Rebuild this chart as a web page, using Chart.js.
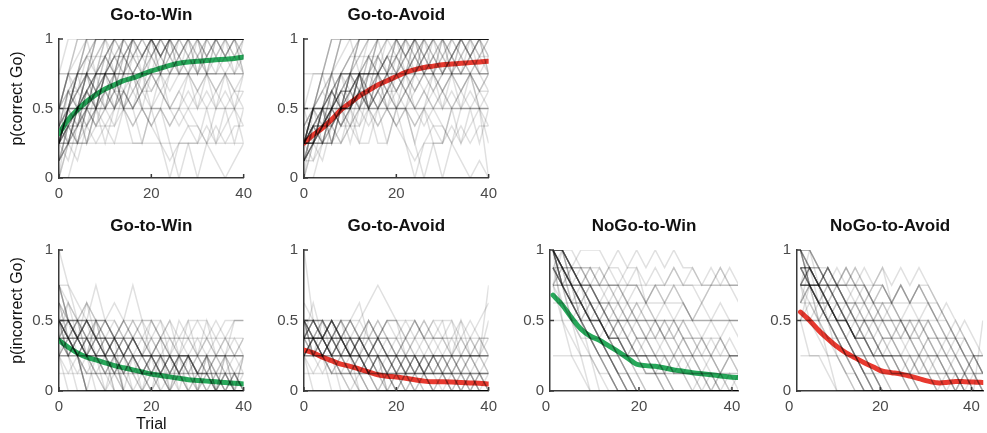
<!DOCTYPE html>
<html>
<head>
<meta charset="utf-8">
<script src="https://cdn.jsdelivr.net/npm/chart.js@4.4.1/dist/chart.umd.min.js"></script>
<style>
  body { margin: 0; background: #fff; }
  #wrap { position: relative; width: 987px; height: 433px; overflow: hidden; }
  #wrap canvas { position: absolute; }
</style>
</head>
<body>
<div id="wrap"></div>
<script>
// trial positions of the sampled points
const trialsGo = [0, 2, 4, 6, 8, 10, 12, 14, 16, 18, 20, 22, 24, 26, 28, 30, 32, 34, 36, 38, 40];
const trialsNoGoWin = [1.5, 3.5, 5.5, 7.5, 9.5, 11.5, 13.5, 15.5, 17.5, 19.5, 21.5, 23.5, 25.5, 27.5, 29.5, 31.5, 33.5, 35.5, 37.5, 39.5, 41.5];
const trialsNoGoAvoid = [2.5, 4.5, 6.5, 8.5, 10.5, 12.5, 14.5, 16.5, 18.5, 20.5, 22.5, 24.5, 26.5, 28.5, 30.5, 32.5, 34.5, 36.5, 38.5, 40.5, 42.5];

const xTicks = [0, 20, 40];
const yTicks = [0, 0.5, 1];

// group means
const meanCorrectGoWin = [0.32, 0.42, 0.49, 0.55, 0.60, 0.64, 0.67, 0.70, 0.72, 0.745, 0.77, 0.79, 0.81, 0.825, 0.835, 0.84, 0.845, 0.85, 0.855, 0.86, 0.87];
const meanCorrectGoAvoid = [0.25, 0.31, 0.36, 0.42, 0.49, 0.54, 0.59, 0.63, 0.67, 0.70, 0.73, 0.76, 0.78, 0.795, 0.805, 0.815, 0.82, 0.825, 0.83, 0.835, 0.84];
const meanIncorrectGoWin = [0.36, 0.31, 0.27, 0.24, 0.22, 0.20, 0.18, 0.165, 0.15, 0.135, 0.12, 0.11, 0.10, 0.09, 0.08, 0.075, 0.07, 0.065, 0.06, 0.055, 0.05];
const meanIncorrectGoAvoid = [0.29, 0.27, 0.24, 0.215, 0.19, 0.175, 0.155, 0.135, 0.115, 0.105, 0.10, 0.09, 0.08, 0.07, 0.065, 0.065, 0.063, 0.06, 0.057, 0.055, 0.05];
const meanIncorrectNoGoWin = [0.68, 0.61, 0.52, 0.44, 0.39, 0.36, 0.32, 0.28, 0.235, 0.19, 0.18, 0.175, 0.163, 0.15, 0.14, 0.13, 0.122, 0.115, 0.107, 0.10, 0.095];
const meanIncorrectNoGoAvoid = [0.56, 0.50, 0.43, 0.37, 0.315, 0.27, 0.235, 0.20, 0.17, 0.14, 0.13, 0.12, 0.105, 0.088, 0.07, 0.058, 0.06, 0.067, 0.066, 0.064, 0.06];

// single subjects: one digit per sampled trial, value in eighths
const subjCorrectGoWin = [
  '46888 88888 88888 88888 8', '24688 88888 88888 88888 8', '02468 88888 88888 88888 8',
  '22446 68888 88888 88888 8', '44666 66888 88888 88888 8', '66666 66666 66666 66666 6',
  '46666 66666 66666 66666 6', '44444 44444 44444 44444 4', '24446 66688 88888 88888 8',
  '02244 66688 86888 88888 8', '46686 88888 86888 88888 8', '24464 66888 88888 68888 8',
  '22222 22222 22222 22222 2', '24644 66446 68866 86686 6', '42424 46464 66446 46464 6',
  '22424 24442 42022 02444 2', '00246 68888 88888 88888 8', '68888 88888 88888 88888 8',
  '44688 88888 88888 88888 8', '24668 86888 88888 86888 8', '46464 64686 88868 88888 8',
  '22446 44664 46688 68888 6', '04224 46422 44202 24242 4', '66888 88888 88888 88888 8',
  '44668 88888 88888 88888 6', '24444 66666 44666 66666 8',
  '34567 88888 88888 88888 8', '23456 78888 87888 88888 8', '24567 78787 88788 87888 8',
  '35677 88888 88878 88888 8', '12345 67788 88888 88888 8', '23456 67778 78787 87878 7',
  '45678 88888 88888 88888 8', '34566 76767 78787 88788 8', '23345 56667 67676 76767 6',
  '12334 45545 56566 56565 5', '34454 54545 45454 54545 4', '23234 33434 34343 32323 3',
  '13456 78888 88888 88887 8', '24678 88888 87888 88888 8', '33456 67888 88888 88888 8',
  '21345 65676 78888 88888 8', '12223 34545 65434 32101 2', '46788 88888 88888 88888 8',
  '35465 67687 87878 88888 8', '24354 65767 87888 78888 8', '13243 54656 76878 78787 8',
  '32435 46576 87678 87878 8', '45565 76787 87888 88888 8', '23434 54565 65456 56565 6',
  '34545 45454 34345 45454 5', '12132 32434 32123 23234 3', '24354 56465 76767 67676 7',
  '35465 76878 78888 88888 8', '13354 65767 87888 88888 8', '23243 43545 65676 76878 7',
  '46576 87878 88888 88888 8', '24465 67677 88888 88888 8', '32343 45456 56767 67878 8',
  '25456 78788 88888 88888 8'
];
const subjCorrectGoAvoid = [
  '24688 88888 88888 88888 8', '22446 68888 88888 88888 8', '02246 68888 88888 88888 8',
  '22244 46688 88888 88888 8', '44446 66668 88888 88888 8', '66666 66666 66666 66666 6',
  '44444 44444 44444 44444 4', '24444 44444 44444 44444 4', '22446 66666 66666 66666 6',
  '02244 46666 88886 88888 8', '24464 68888 86888 88888 8', '22424 46466 68688 88888 8',
  '22222 42244 44242 24444 2', '24644 66446 68866 86686 6', '42424 46464 66446 46464 4',
  '22424 24442 42022 02444 0', '00224 46688 88888 88888 8', '46688 88888 88888 88888 8',
  '24468 88888 88888 88888 8', '24668 86888 88888 86888 8', '44464 64686 88868 88888 8',
  '22446 44664 46688 68888 6', '04224 46422 44202 24242 4', '24688 88888 88888 88888 8',
  '22468 88888 88888 88888 6', '24444 66666 44666 66664 4',
  '23456 78888 88888 88888 8', '12345 66788 88888 88888 8', '23345 56678 88888 88888 8',
  '24566 77888 88788 88888 8', '12334 45567 78888 88888 8', '23456 67778 78787 87878 7',
  '34567 88888 88888 88888 8', '22345 56767 67878 88788 8', '23345 56667 67676 76767 6',
  '12334 45545 56566 56565 5', '34454 54545 45454 54545 4', '23234 33434 34343 32323 3',
  '12345 67888 88888 88887 8', '23456 78888 87888 88888 8', '13345 56788 88888 88888 8',
  '21345 65676 78888 88888 8', '12223 34545 65434 32101 0', '22334 45665 45676 54565 6',
  '24354 65767 87888 78888 8', '13243 54656 76878 78787 8', '22435 46576 87678 87878 8',
  '23454 56576 76787 87888 8', '23434 54565 65456 56565 6', '34545 45454 34345 45454 5',
  '12132 32434 32123 23234 3', '24354 56465 76767 67676 7', '13354 65767 87888 88888 8',
  '23243 43545 65676 76878 7', '12343 45456 56767 67878 8', '24456 56567 67878 88888 8',
  '32343 45456 56767 67878 8', '13234 35456 54565 67676 5', '23343 45454 56565 67676 6',
  '11232 34345 45654 56767 7'
];
const subjIncorrectGoWin = [
  '42200 00000 00000 00000 0', '64200 00000 00000 00000 0', '43220 00000 00000 00000 0',
  '22222 22222 22222 22222 2', '44322 20000 00000 00000 0', '43432 21200 00000 00000 0',
  '24342 22000 00000 00000 0', '44424 43432 22202 02000 0', '64446 45464 44243 43434 4',
  '22000 00000 00000 00000 0', '43202 02000 00000 00000 0', '86422 20000 00000 00000 0',
  '44444 32222 22222 22222 2', '33443 43232 43222 02022 2', '44344 43434 23422 24224 4',
  '42322 12000 20020 00000 0', '33200 00000 00000 00000 0', '20000 00000 00000 00000 0',
  '43224 23020 02000 00000 0', '34443 43444 43324 44344 4', '43232 22322 23022 12220 2',
  '65454 44343 43434 22020 2', '35353 33232 22122 11010 0',
  '53200 00000 00000 00000 0', '64321 00000 00000 00000 0', '44332 21100 00000 00000 0',
  '33322 11111 00000 00000 0', '54433 22211 11000 00000 0', '32211 11000 00000 00000 0',
  '44343 32323 21212 11101 0', '23332 22121 21111 01010 0', '43323 23222 12121 11111 1',
  '66543 32221 11000 00000 0', '34343 43332 32222 21222 2', '45454 43434 34333 23232 3',
  '22211 10000 00000 00000 0', '33333 33322 22211 11000 0', '44444 33333 22222 11111 0',
  '53222 22222 22222 22222 2', '11111 11111 11111 11111 1', '43333 33333 33333 33333 3',
  '32323 21212 12121 01010 0', '43432 32321 21210 10101 0', '23232 32121 21212 12101 1',
  '34343 23232 12121 21210 1', '43232 12121 01010 10000 0', '32321 21210 10100 00000 0',
  '23234 32321 23212 12121 2', '54343 23232 32323 23232 3', '42323 21210 10000 00000 0',
  '33232 32121 21212 10101 0', '21212 12101 01010 00000 0', '44343 34343 23232 32323 2',
  '32121 01000 00000 00000 0', '43434 23232 12121 21212 1', '64343 23232 21212 11010 0',
  '22323 23232 21212 12121 0'
];
const subjIncorrectGoAvoid = [
  '43200 00000 00000 00000 0', '42220 00000 00000 00000 0', '22222 22222 22222 22222 2',
  '33333 22222 22222 22222 2', '43322 21100 00000 00000 0', '34342 22120 00000 00000 0',
  '44443 43434 42343 34232 6', '34323 22222 12212 22222 2', '84422 20000 00000 00000 0',
  '33221 10000 00000 00000 0', '42434 45343 23434 32322 2', '23232 32222 11111 11111 1',
  '44323 22120 01000 00000 0', '33434 32434 43432 22222 4', '22211 00000 00000 00000 0',
  '42212 12101 10100 00000 0', '33323 23232 22222 21222 2', '34343 43434 43434 42423 3',
  '20000 00000 00000 00000 0', '43322 11000 00000 00000 0', '23233 23323 22122 22122 1',
  '44343 44565 44433 44343 2',
  '33221 11000 00000 00000 0', '44332 22111 00000 00000 0', '34433 32222 11111 10000 0',
  '23322 21111 11110 00000 0', '43333 33222 22211 11111 1', '54433 22211 00000 00000 0',
  '33343 33232 22121 21111 0', '22232 22121 11111 11010 0', '44343 43434 34343 33434 5',
  '23333 33333 33333 33333 3', '33434 43333 22222 22222 2', '11111 11111 11111 11111 1',
  '43322 21111 11111 11111 1', '35343 33222 21111 11000 0', '22211 10000 00000 00000 0',
  '44444 33333 32222 22221 1',
  '32323 21212 12121 01010 0', '23232 32321 21210 10101 0', '23232 32121 21212 12101 1',
  '34343 23232 12121 21210 1', '33232 12121 01010 10000 0', '32321 21210 10100 00000 0',
  '23234 32321 23212 12121 2', '43343 23232 32323 23232 3', '42323 21210 10000 00000 0',
  '33232 32121 21212 10101 0', '21212 12101 01010 00000 0', '34343 34343 23232 32323 2',
  '32121 01000 00000 00000 0', '23434 23232 12121 21212 1', '43343 23232 21212 11010 0',
  '22323 23232 21212 12121 0'
];
const subjIncorrectNoGoWin = [
  '86420 00000 00000 00000 0', '87642 00000 00000 00000 0', '88764 32100 00000 00000 0',
  '86666 66666 66666 66666 6', '44444 44444 44444 44444 4', '22222 22222 22222 22222 2',
  '87654 32100 00000 00000 0', '86543 21000 00000 00000 0', '76776 76677 67676 76676 6',
  '87667 67766 56676 65676 6', '86765 45454 34343 23232 2', '68654 54323 21000 00000 0',
  '87645 43432 22121 21010 1', '66543 21000 00000 00000 0', '88777 66567 56565 45454 4',
  '64322 10000 00000 00000 0', '87543 21000 00000 00000 0', '76555 43444 33434 33232 2',
  '88765 43210 00000 00000 0', '86432 11000 00000 00000 0', '67656 54545 56565 45666 5',
  '88654 32222 11100 00000 0', '75433 22211 11111 11111 1', '84210 00000 00000 00000 0',
  '88765 54321 00000 00000 0', '87765 43322 11000 00000 0', '76654 43322 21100 00000 0',
  '88766 55443 32211 00000 0', '66554 43322 22211 11000 0', '87543 22110 00000 00000 0',
  '88877 76655 44332 21100 0', '66666 66666 55555 44444 4', '76666 55554 44443 33332 2',
  '87654 43332 22222 22222 2', '88788 87878 78787 76767 6', '86544 44444 44444 44444 4',
  '55544 43332 22111 10000 0', '77666 55544 43332 22111 1', '88654 32100 00000 00000 0',
  '87765 54443 33222 11100 0',
  '87654 32100 00000 00000 0', '87765 43210 00000 00000 0', '76543 21000 00000 00000 0',
  '88765 43221 00000 00000 0', '86554 43322 11000 00000 0', '77654 32110 00000 00000 0',
  '88766 54432 21100 00000 0', '76545 43432 32121 01010 0', '67656 54343 32323 21212 1',
  '87676 56545 43434 32323 2', '65454 34323 21212 10101 0', '88776 65654 54343 32212 1',
  '87654 43210 00000 00000 0', '76565 45434 34323 23212 2', '86543 32100 00000 00000 0',
  '78767 67656 54545 43434 3'
];
const subjIncorrectNoGoAvoid = [
  '86420 00000 00000 00000 0', '76542 10000 00000 00000 0', '87654 32100 00000 00000 0',
  '66666 66655 54321 00000 0', '44444 44444 44444 32100 0', '22222 22222 22222 22100 0',
  '87654 32100 00000 00000 0', '66543 21000 00000 00000 0', '76676 76566 56565 43210 0',
  '86667 67656 56566 54321 0', '66565 45454 34343 21010 0', '68654 54323 21000 00000 0',
  '57645 43432 22121 21010 4', '44543 21000 00000 00000 0', '67676 66567 56565 54343 2',
  '44322 10000 00000 00000 0', '86543 21000 00000 00000 0', '56555 43444 33434 33232 2',
  '88765 43210 00000 00000 0', '46432 11000 00000 00000 0', '45456 54545 56565 45432 1',
  '66554 32222 11100 00000 0', '44433 22211 11111 11111 1', '42210 00000 00000 00000 0',
  '88765 54321 00000 00000 0', '77765 43322 11000 00000 0', '66654 43322 21100 00000 0',
  '88766 55443 32211 00000 0', '66554 43322 22211 11000 0', '87543 22110 00000 00000 0',
  '77776 76655 44332 21100 0', '66666 66666 55555 44321 0', '56666 55554 44443 33332 2',
  '76654 43332 22222 22221 1', '67676 76767 67676 54322 1', '64444 44444 44444 43322 2',
  '55544 43332 22111 10000 0', '67666 55544 43332 22111 1', '86654 32100 00000 00000 0',
  '77665 54443 33222 11100 0',
  '87654 32100 00000 00000 0', '77654 43210 00000 00000 0', '76543 21000 00000 00000 0',
  '88765 43221 00000 00000 0', '66554 43322 11000 00000 0', '77654 32110 00000 00000 0',
  '87766 54432 21100 00000 0', '66545 43432 32121 01010 0', '67656 54343 32323 21212 1',
  '76676 56545 43434 32321 0', '65454 34323 21212 10101 0', '77676 65654 54343 32212 1',
  '86654 43210 00000 00000 0', '56565 45434 34323 23212 2', '76543 32100 00000 00000 0',
  '67676 67656 54545 43432 1'
];

const GREEN = '#27a85a';
const RED = '#e8392f';
const TRACE = 'rgba(0, 0, 0, 0.12)';
const AXIS = '#3a3a3a';
const FONT = '"Liberation Sans", Arial, Helvetica, sans-serif';

const panels = [
  { title: 'Go-to-Win', x: trialsGo, mean: meanCorrectGoWin, subjects: subjCorrectGoWin, color: GREEN,
    box: { left: 59, top: 39, width: 186, height: 139 }, xMin: 0, xMax: 40, yLabel: 'p(correct Go)' },
  { title: 'Go-to-Avoid', x: trialsGo, mean: meanCorrectGoAvoid, subjects: subjCorrectGoAvoid, color: RED,
    box: { left: 304, top: 39, width: 186, height: 139 }, xMin: 0, xMax: 40 },
  { title: 'Go-to-Win', x: trialsGo, mean: meanIncorrectGoWin, subjects: subjIncorrectGoWin, color: GREEN,
    box: { left: 59, top: 250, width: 186, height: 141 }, xMin: 0, xMax: 40, yLabel: 'p(incorrect Go)', xLabel: 'Trial' },
  { title: 'Go-to-Avoid', x: trialsGo, mean: meanIncorrectGoAvoid, subjects: subjIncorrectGoAvoid, color: RED,
    box: { left: 304, top: 250, width: 186, height: 141 }, xMin: 0, xMax: 40 },
  { title: 'NoGo-to-Win', x: trialsNoGoWin, mean: meanIncorrectNoGoWin, subjects: subjIncorrectNoGoWin, color: GREEN,
    box: { left: 550, top: 250, width: 188, height: 141 }, xMin: 0.86, xMax: 41.3 },
  { title: 'NoGo-to-Avoid', x: trialsNoGoAvoid, mean: meanIncorrectNoGoAvoid, subjects: subjIncorrectNoGoAvoid, color: RED,
    box: { left: 797, top: 250, width: 188, height: 141 }, xMin: 1.74, xMax: 42.6, padRight: 2 }
];

function decode(s) {
  return s.replace(/\s/g, '').split('').map(c => Number(c) / 8);
}

// MATLAB-style tick marks pointing into the axes
const inwardTicks = {
  id: 'inwardTicks',
  afterDraw(chart) {
    const { ctx, chartArea, scales } = chart;
    ctx.save();
    ctx.strokeStyle = AXIS;
    ctx.lineWidth = 1.5;
    scales.x.ticks.forEach(t => {
      const px = scales.x.getPixelForValue(t.value);
      if (px < chartArea.left - 1 || px > chartArea.right + 1) return;
      ctx.beginPath();
      ctx.moveTo(px, chartArea.bottom);
      ctx.lineTo(px, chartArea.bottom - 4);
      ctx.stroke();
    });
    scales.y.ticks.forEach(t => {
      const py = scales.y.getPixelForValue(t.value);
      ctx.beginPath();
      ctx.moveTo(chartArea.left, py);
      ctx.lineTo(chartArea.left + 4, py);
      ctx.stroke();
    });
    ctx.restore();
  }
};

// rotated y-axis label, sits a little above the axis centre
const sideLabel = {
  id: 'sideLabel',
  afterDraw(chart, args, opts) {
    if (!opts.text) return;
    const { ctx, chartArea } = chart;
    ctx.save();
    ctx.translate(chartArea.left - 41, (chartArea.top + chartArea.bottom) / 2 - 10);
    ctx.rotate(-Math.PI / 2);
    ctx.font = '16px ' + FONT;
    ctx.fillStyle = '#111';
    ctx.textAlign = 'center';
    ctx.textBaseline = 'middle';
    ctx.fillText(opts.text, 0, 0);
    ctx.restore();
  }
};

const wrap = document.getElementById('wrap');

panels.forEach(p => {
  const yw = p.yLabel ? 59 : 45;
  const xh = p.xLabel ? 45 : 30;
  const padRight = p.padRight !== undefined ? p.padRight : 14;
  const titleSpace = 40;
  const w = yw + p.box.width + padRight;
  const h = titleSpace + p.box.height + xh;

  const canvas = document.createElement('canvas');
  canvas.width = w;
  canvas.height = h;
  canvas.style.width = w + 'px';
  canvas.style.height = h + 'px';
  canvas.style.left = (p.box.left - yw) + 'px';
  canvas.style.top = (p.box.top - titleSpace) + 'px';
  wrap.appendChild(canvas);

  const datasets = p.subjects.map(s => ({
    data: decode(s).map((v, i) => ({ x: p.x[i], y: v })),
    borderColor: TRACE,
    borderWidth: 1.5,
    pointRadius: 0,
    tension: 0
  }));
  datasets.push({
    data: p.mean.map((v, i) => ({ x: p.x[i], y: v })),
    borderColor: p.color,
    borderWidth: 5,
    pointRadius: 0,
    tension: 0.3,
    borderCapStyle: 'round'
  });

  new Chart(canvas, {
    type: 'line',
    data: { datasets },
    options: {
      responsive: false,
      animation: false,
      events: [],
      layout: { padding: { top: 5.8, right: padRight, left: 0, bottom: 0 } },
      plugins: {
        legend: { display: false },
        tooltip: { enabled: false },
        title: {
          display: true,
          text: p.title,
          fullSize: false,
          color: '#111',
          font: { family: FONT, size: 17, weight: 'bold' },
          padding: { top: 0, bottom: 13.8 }
        },
        sideLabel: { text: p.yLabel || '' }
      },
      scales: {
        x: {
          type: 'linear',
          min: p.xMin,
          max: p.xMax,
          afterBuildTicks: s => { s.ticks = xTicks.map(v => ({ value: v })); },
          afterFit: s => { s.height = xh; },
          grid: { display: false, drawTicks: false },
          border: { display: true, color: AXIS, width: 1.5 },
          ticks: { padding: 7, color: '#4a4a4a', font: { family: FONT, size: 15 }, maxRotation: 0, autoSkip: false },
          title: {
            display: !!p.xLabel,
            text: p.xLabel || '',
            color: '#111',
            font: { family: FONT, size: 16 },
            padding: { top: 0, bottom: 2 }
          }
        },
        y: {
          min: 0,
          max: 1,
          afterBuildTicks: s => { s.ticks = yTicks.map(v => ({ value: v })); },
          afterFit: s => { s.width = yw; },
          grid: { display: false, drawTicks: false },
          border: { display: true, color: AXIS, width: 1.5 },
          ticks: { padding: 6, color: '#4a4a4a', font: { family: FONT, size: 15 }, callback: v => String(v) }
        }
      }
    },
    plugins: [inwardTicks, sideLabel]
  });
});
</script>
</body>
</html>
